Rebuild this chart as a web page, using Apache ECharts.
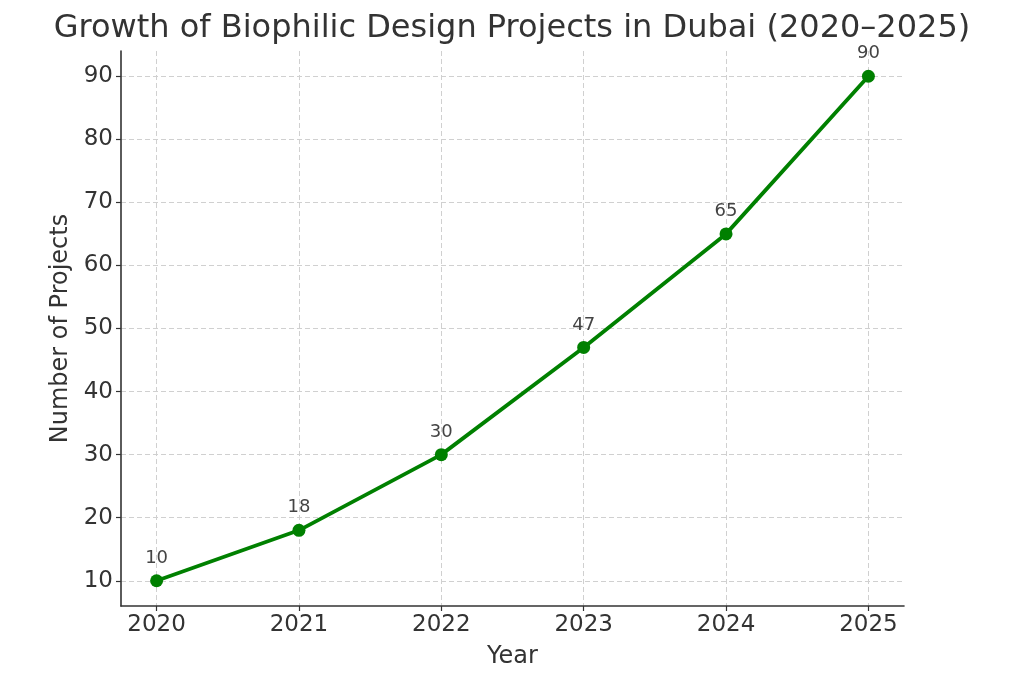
<!DOCTYPE html>
<html>
<head>
<meta charset="utf-8">
<script src="https://cdn.jsdelivr.net/npm/echarts@6/dist/echarts.min.js"></script>
<style>html,body{margin:0;padding:0;background:#fff}#c{width:1024px;height:683px}</style>
</head>
<body>
<div id="c"></div>
<script>
const years = [2020, 2021, 2022, 2023, 2024, 2025];
const projects = [10, 18, 30, 47, 65, 90];
const yTicks = [10, 20, 30, 40, 50, 60, 70, 80, 90];
const titleText = 'Growth of Biophilic Design Projects in Dubai (2020–2025)';

const chart = echarts.init(document.getElementById('c'));
const font = 'DejaVu Sans';
chart.setOption({
  animation: false,
  backgroundColor: '#fff',
  title: {
    text: titleText, left: 'center', top: 8,
    textStyle: { fontFamily: font, fontSize: 32, fontWeight: 'normal', color: '#333' }
  },
  grid: { left: 121, right: 120, top: 51, bottom: 77, containLabel: false },
  xAxis: {
    type: 'value', min: 2019.75, max: 2025.25,
    name: 'Year', nameLocation: 'middle', nameGap: 39,
    nameTextStyle: { fontFamily: font, fontSize: 24, color: '#333' },
    axisLine: { show: true, lineStyle: { color: '#333', width: 1.6 } },
    axisTick: { show: true, customValues: years, length: 5, lineStyle: { color: '#333', width: 1.2 } },
    axisLabel: { customValues: years, fontFamily: font, fontSize: 23, color: '#333', margin: 8, formatter: v => String(v) },
    splitLine: { show: true, lineStyle: { color: '#d0d0d0', type: [5, 3], width: 1 } }
  },
  yAxis: {
    type: 'value', min: 6, max: 94,
    name: 'Number of Projects', nameLocation: 'middle', nameGap: 47,
    nameTextStyle: { fontFamily: font, fontSize: 24, color: '#333' },
    axisLine: { show: true, lineStyle: { color: '#333', width: 1.6 } },
    axisTick: { show: true, customValues: yTicks, length: 5, lineStyle: { color: '#333', width: 1.2 } },
    axisLabel: { customValues: yTicks, fontFamily: font, fontSize: 23, color: '#333', margin: 8 },
    splitLine: { show: true, lineStyle: { color: '#d0d0d0', type: [5, 3], width: 1 } }
  },
  series: [{
    type: 'line',
    data: years.map((y, i) => [y, projects[i]]),
    lineStyle: { color: '#008000', width: 3.8 },
    itemStyle: { color: '#008000' },
    symbol: 'circle', symbolSize: 13, showAllSymbol: true,
    label: { show: true, position: 'top', distance: 7, fontFamily: font, fontSize: 18, color: '#444' }
  }]
});
</script>
</body>
</html>
